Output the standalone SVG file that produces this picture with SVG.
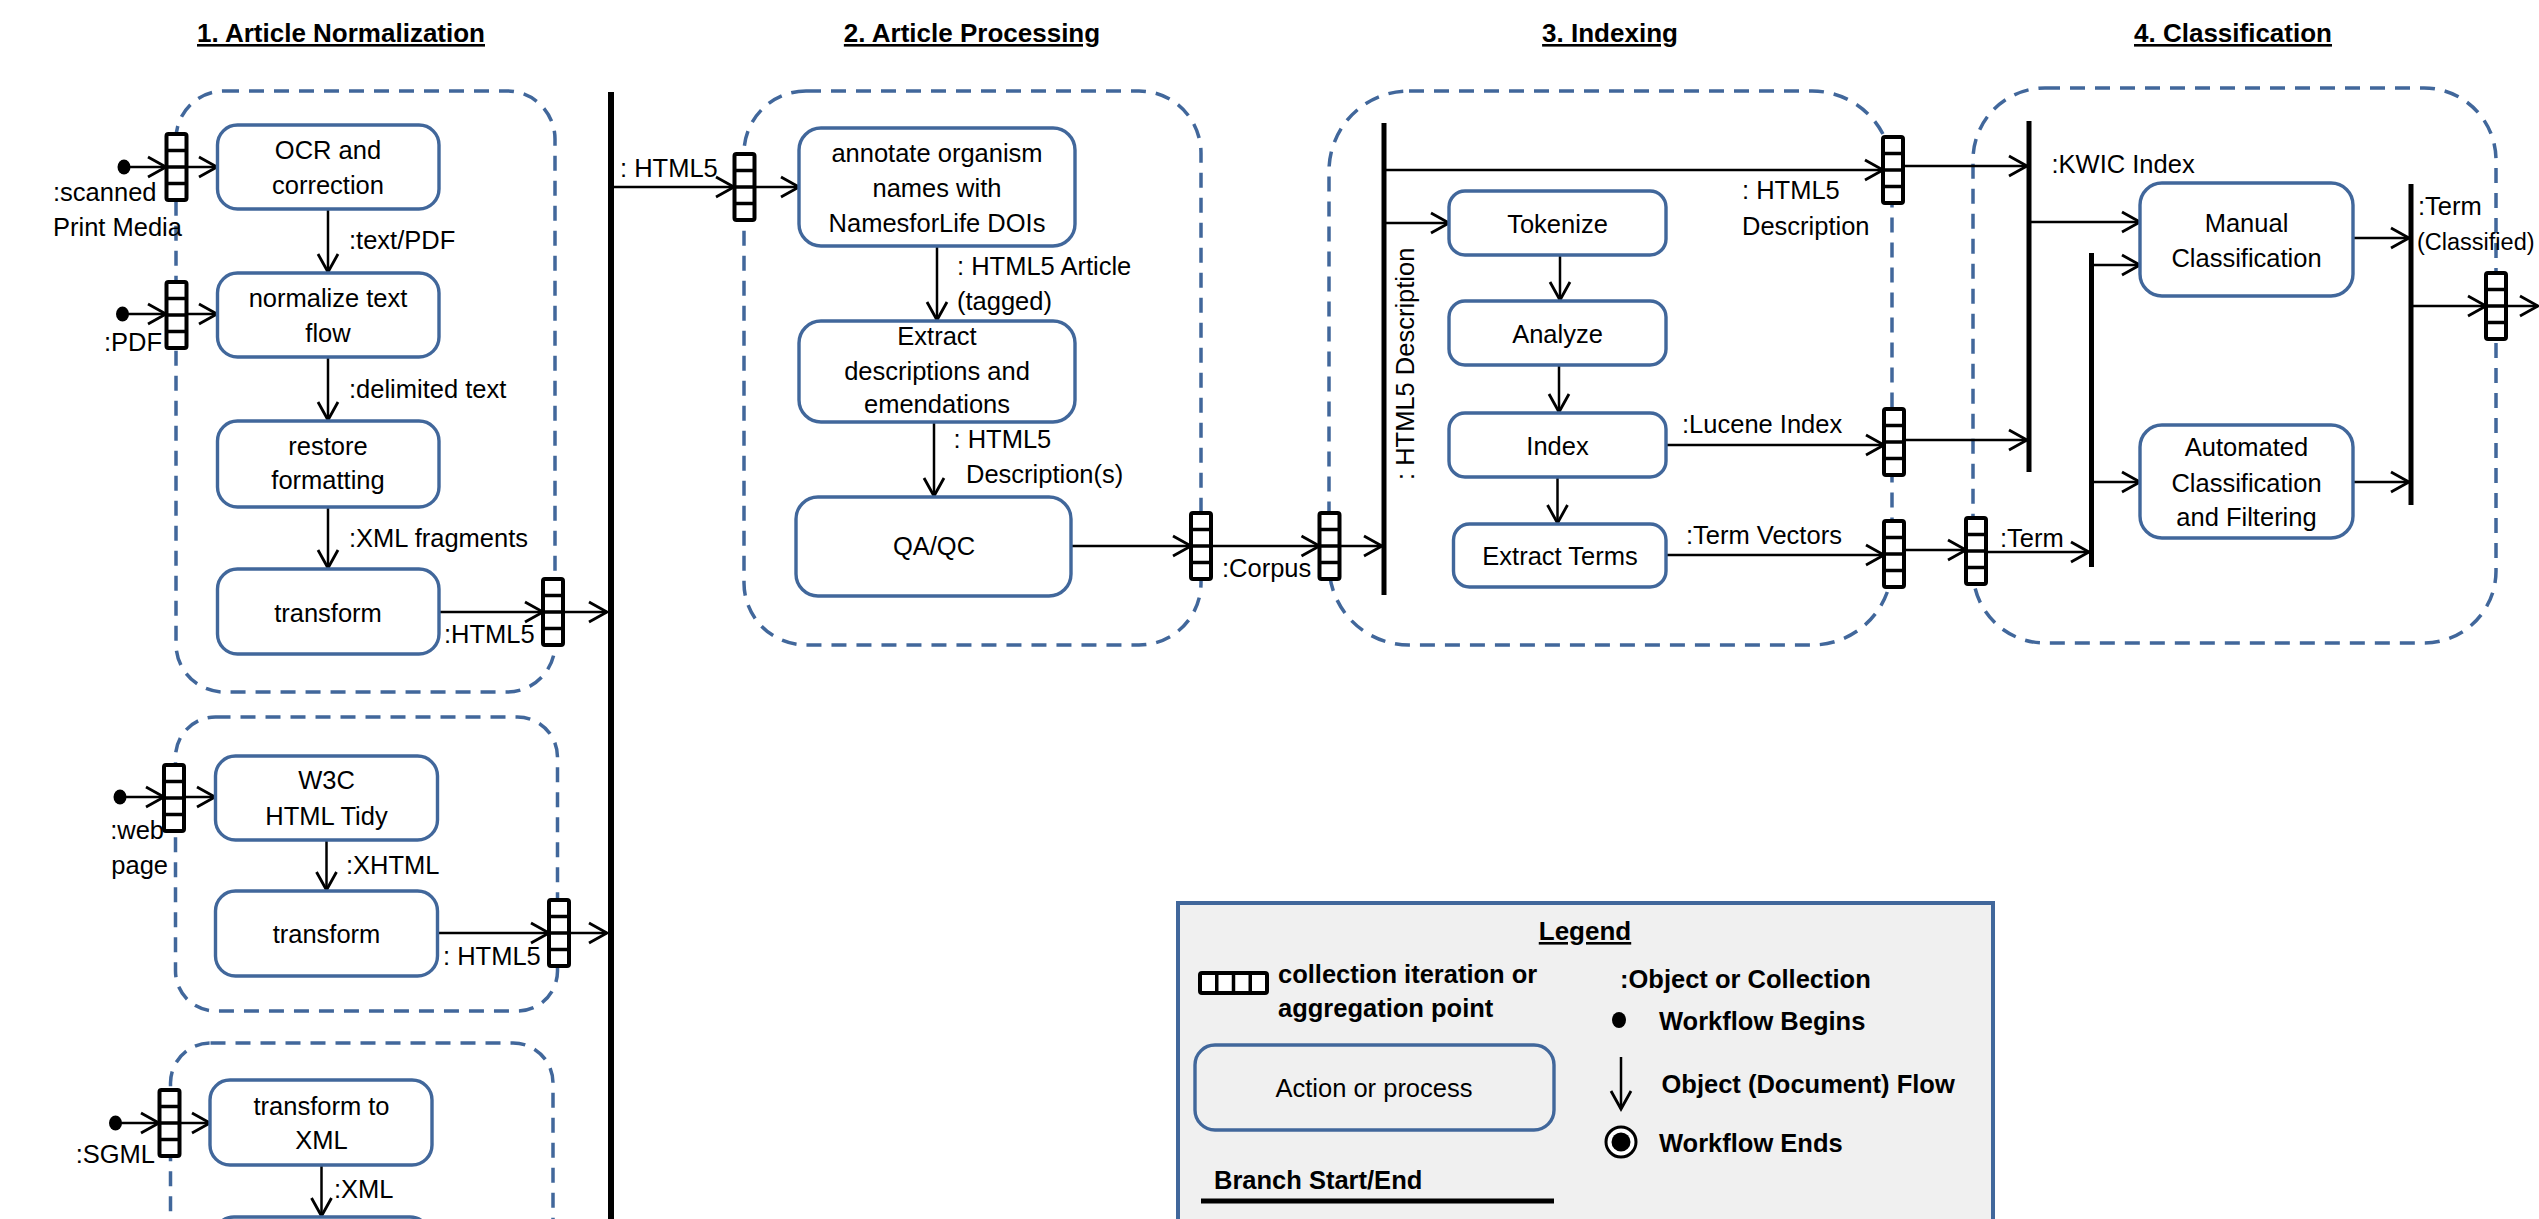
<svg xmlns="http://www.w3.org/2000/svg" xmlns:xlink="http://www.w3.org/1999/xlink" width="2539" height="1219" viewBox="0 0 2539 1219">
<style>
text{font-family:"Liberation Sans",Arial,sans-serif;font-size:25.5px;fill:#000}
.c{text-anchor:middle}
.e{text-anchor:end}
.b{font-weight:bold}
.h{font-weight:bold;font-size:26px;text-decoration:underline}
.box{fill:#fff;stroke:#41679b;stroke-width:3.4}
.grp{fill:none;stroke:#41679b;stroke-width:3.5;stroke-dasharray:15 10}
.f{fill:none;stroke:#000;stroke-width:2.5;marker-end:url(#ah)}
.bar{stroke:#000;stroke-width:6}
</style>
<defs>
<marker id="ah" markerUnits="userSpaceOnUse" viewBox="-22 -13 24 26" refX="0" refY="0" markerWidth="24" markerHeight="26" orient="auto" overflow="visible">
<path d="M-18,-10 L0,0 L-18,10" fill="none" stroke="#000" stroke-width="2.8"/>
</marker>
<g id="pin">
<rect x="0" y="0" width="20" height="66" rx="2" fill="#fff" stroke="#000" stroke-width="4"/>
<path d="M0 16.5H20M0 33H20M0 49.5H20" stroke="#000" stroke-width="3.5"/>
</g>
</defs>
<rect width="2539" height="1219" fill="#fff"/>

<g id="titles">
<text class="h c" x="341" y="42">1. Article Normalization</text>
<text class="h c" x="972" y="42">2. Article Processing</text>
<text class="h c" x="1610" y="42">3. Indexing</text>
<text class="h c" x="2233" y="42">4. Classification</text>
</g>

<g id="partitions">
<rect id="grp-ocr" class="grp" x="176" y="91" width="379" height="601" rx="48"/>
<rect id="grp-web" class="grp" x="175.5" y="717" width="382" height="294" rx="40"/>
<rect id="grp-sgml" class="grp" x="170.5" y="1043" width="382.5" height="260" rx="40"/>
<rect id="grp-processing" class="grp" x="744" y="91" width="457" height="554" rx="62"/>
<rect id="grp-indexing" class="grp" x="1329" y="91" width="563" height="554" rx="80"/>
<rect id="grp-classification" class="grp" x="1973" y="88" width="523" height="555" rx="72"/>
</g>

<g id="bars">
<line class="bar" x1="611" y1="92" x2="611" y2="1225"/>
<line class="bar" x1="1384" y1="123" x2="1384" y2="595" style="stroke-width:5"/>
<line class="bar" x1="2029" y1="121" x2="2029" y2="472" style="stroke-width:5"/>
<line class="bar" x1="2091.5" y1="253" x2="2091.5" y2="567" style="stroke-width:5"/>
<line class="bar" x1="2411" y1="184" x2="2411" y2="505" style="stroke-width:5"/>
</g>

<g id="connectors">
<line class="f" x1="124" y1="167" x2="166" y2="167"/>
<line class="f" x1="187" y1="167" x2="217" y2="167"/>
<line class="f" x1="328" y1="209" x2="328" y2="272"/>
<line class="f" x1="122" y1="314" x2="166" y2="314"/>
<line class="f" x1="187" y1="314" x2="217" y2="314"/>
<line class="f" x1="328" y1="357" x2="328" y2="420"/>
<line class="f" x1="328" y1="507" x2="328" y2="568"/>
<line class="f" x1="439" y1="612" x2="543" y2="612"/>
<line class="f" x1="563" y1="612" x2="607" y2="612"/>
<line class="f" x1="120" y1="797" x2="164" y2="797"/>
<line class="f" x1="184.5" y1="797" x2="215" y2="797"/>
<line class="f" x1="326.5" y1="840" x2="326.5" y2="890"/>
<line class="f" x1="437.5" y1="933" x2="549" y2="933"/>
<line class="f" x1="569" y1="933" x2="607" y2="933"/>
<line class="f" x1="115.5" y1="1123" x2="159" y2="1123"/>
<line class="f" x1="179.5" y1="1123" x2="210" y2="1123"/>
<line class="f" x1="321.5" y1="1165" x2="321.5" y2="1216"/>
<line class="f" x1="613" y1="187" x2="734" y2="187"/>
<line class="f" x1="755" y1="187" x2="799" y2="187"/>
<line class="f" x1="937" y1="246" x2="937" y2="320"/>
<line class="f" x1="934" y1="422" x2="934" y2="496"/>
<line class="f" x1="1071" y1="546" x2="1191" y2="546"/>
<line class="f" x1="1211" y1="546" x2="1319.5" y2="546"/>
<line class="f" x1="1339" y1="546" x2="1382" y2="546"/>
<line class="f" x1="1386" y1="170" x2="1883" y2="170"/>
<line class="f" x1="1902" y1="166" x2="2027" y2="166"/>
<line class="f" x1="1386" y1="223" x2="1449" y2="223"/>
<line class="f" x1="1560" y1="255" x2="1560" y2="300"/>
<line class="f" x1="1559" y1="365" x2="1559" y2="412"/>
<line class="f" x1="1666" y1="445" x2="1884" y2="445"/>
<line class="f" x1="1904.5" y1="440" x2="2027" y2="440"/>
<line class="f" x1="1557.5" y1="477" x2="1557.5" y2="523"/>
<line class="f" x1="1666" y1="555" x2="1884" y2="555"/>
<line class="f" x1="1904.5" y1="550" x2="1966" y2="550"/>
<line class="f" x1="1986" y1="552" x2="2089" y2="552"/>
<line class="f" x1="2031" y1="222" x2="2140" y2="222"/>
<line class="f" x1="2093" y1="265" x2="2140" y2="265"/>
<line class="f" x1="2093" y1="482" x2="2140" y2="482"/>
<line class="f" x1="2353" y1="238" x2="2409" y2="238"/>
<line class="f" x1="2353" y1="482" x2="2409" y2="482"/>
<line class="f" x1="2413" y1="306" x2="2486" y2="306"/>
<line class="f" x1="2506" y1="306" x2="2538" y2="306"/>
</g>

<g id="starts">
<ellipse cx="124" cy="167" rx="6.5" ry="7.5"/>
<ellipse cx="122.5" cy="314" rx="6.5" ry="7.5"/>
<ellipse cx="120" cy="797" rx="6.5" ry="7.5"/>
<ellipse cx="115.5" cy="1123" rx="6.5" ry="7.5"/>
</g>

<g id="pins">
<use href="#pin" x="166.5" y="134"/>
<use href="#pin" x="166.5" y="282"/>
<use href="#pin" x="543" y="579"/>
<use href="#pin" x="164" y="765"/>
<use href="#pin" x="549" y="900"/>
<use href="#pin" x="159.5" y="1090"/>
<use href="#pin" x="734.5" y="154"/>
<use href="#pin" x="1191" y="513"/>
<use href="#pin" x="1319.5" y="513"/>
<use href="#pin" x="1883" y="137"/>
<use href="#pin" x="1884" y="409"/>
<use href="#pin" x="1884" y="521"/>
<use href="#pin" x="1966" y="518"/>
<use href="#pin" x="2486" y="273"/>
</g>

<g id="n-ocr"><rect class="box" x="217.5" y="125" width="221.5" height="84" rx="20"/>
<text class="c" x="328" y="159">OCR and</text><text class="c" x="328" y="194">correction</text></g>
<g id="n-normalize"><rect class="box" x="217.5" y="273" width="221.5" height="84" rx="20"/>
<text class="c" x="328" y="307">normalize text</text><text class="c" x="328" y="342">flow</text></g>
<g id="n-restore"><rect class="box" x="217.5" y="421" width="221.5" height="86" rx="20"/>
<text class="c" x="328" y="455">restore</text><text class="c" x="328" y="489">formatting</text></g>
<g id="n-transform1"><rect class="box" x="217.5" y="569" width="221.5" height="85" rx="20"/>
<text class="c" x="328" y="622">transform</text></g>
<g id="n-tidy"><rect class="box" x="215.5" y="756" width="222" height="84" rx="20"/>
<text class="c" x="326.5" y="789">W3C</text><text class="c" x="326.5" y="825">HTML Tidy</text></g>
<g id="n-transform2"><rect class="box" x="215.5" y="891" width="222" height="85" rx="20"/>
<text class="c" x="326.5" y="943">transform</text></g>
<g id="n-toxml"><rect class="box" x="210" y="1080" width="222" height="85" rx="20"/>
<text class="c" x="321.5" y="1115">transform to</text><text class="c" x="321.5" y="1149">XML</text></g>
<g id="n-next"><rect class="box" x="214" y="1217" width="216" height="85" rx="20"/></g>

<g id="n-annotate"><rect class="box" x="799" y="128" width="276" height="118" rx="22"/>
<text class="c" x="937" y="162">annotate organism</text><text class="c" x="937" y="197">names with</text><text class="c" x="937" y="232">NamesforLife DOIs</text></g>
<g id="n-extract"><rect class="box" x="799" y="321" width="276" height="101" rx="22"/>
<text class="c" x="937" y="345">Extract</text><text class="c" x="937" y="380">descriptions and</text><text class="c" x="937" y="413">emendations</text></g>
<g id="n-qaqc"><rect class="box" x="796" y="497" width="275" height="99" rx="22"/>
<text class="c" x="934" y="555">QA/QC</text></g>

<g id="n-tokenize"><rect class="box" x="1449" y="191" width="217" height="64" rx="16"/>
<text class="c" x="1557.5" y="233">Tokenize</text></g>
<g id="n-analyze"><rect class="box" x="1449" y="301" width="217" height="64" rx="16"/>
<text class="c" x="1557.5" y="343">Analyze</text></g>
<g id="n-index"><rect class="box" x="1449" y="413" width="217" height="64" rx="16"/>
<text class="c" x="1557.5" y="455">Index</text></g>
<g id="n-terms"><rect class="box" x="1453.5" y="524" width="212.5" height="63" rx="16"/>
<text class="c" x="1560" y="565">Extract Terms</text></g>

<g id="n-manual"><rect class="box" x="2140" y="183" width="213" height="113" rx="22"/>
<text class="c" x="2246.5" y="232">Manual</text><text class="c" x="2246.5" y="267">Classification</text></g>
<g id="n-auto"><rect class="box" x="2140" y="425" width="213" height="113" rx="22"/>
<text class="c" x="2246.5" y="456">Automated</text><text class="c" x="2246.5" y="492">Classification</text><text class="c" x="2246.5" y="526">and Filtering</text></g>

<g id="labels">
<text x="53" y="201">:scanned</text>
<text x="53" y="236">Print Media</text>
<text class="e" x="162" y="351">:PDF</text>
<text x="349" y="249">:text/PDF</text>
<text x="349" y="398">:delimited text</text>
<text x="349" y="547">:XML fragments</text>
<text x="444" y="643">:HTML5</text>
<text class="e" x="164" y="839">:web</text>
<text class="e" x="168" y="874">page</text>
<text x="346" y="874">:XHTML</text>
<text x="443" y="965">: HTML5</text>
<text class="e" x="155" y="1163">:SGML</text>
<text x="334" y="1198">:XML</text>
<text x="620" y="177">: HTML5</text>
<text x="957" y="275">: HTML5 Article</text>
<text x="957" y="310">(tagged)</text>
<text x="953.5" y="448">: HTML5</text>
<text x="966" y="483">Description(s)</text>
<text x="1222" y="577">:Corpus</text>
<text x="1742" y="199">: HTML5</text>
<text x="1742" y="235">Description</text>
<text transform="translate(1414,480) rotate(-90)" x="0" y="0">: HTML5 Description</text>
<text x="1682" y="433">:Lucene Index</text>
<text x="1686" y="544">:Term Vectors</text>
<text x="2051.5" y="173">:KWIC Index</text>
<text x="2418" y="215">:Term</text>
<text x="2417" y="250" style="font-size:23.5px">(Classified)</text>
<text x="2000" y="547">:Term</text>
</g>

<g id="legend">
<rect x="1178" y="903" width="815" height="330" fill="#f0f0f0" stroke="#41679b" stroke-width="4"/>
<text class="h c" x="1585" y="940">Legend</text>
<rect x="1200" y="973" width="67" height="20" rx="2" fill="#fff" stroke="#000" stroke-width="4"/>
<path d="M1216.75 973V993M1233.5 973V993M1250.25 973V993" stroke="#000" stroke-width="3.5"/>
<text class="b" x="1278" y="983">collection iteration or</text>
<text class="b" x="1278" y="1017">aggregation point</text>
<rect x="1195" y="1045" width="359" height="85" rx="20" fill="none" stroke="#41679b" stroke-width="3.4"/>
<text class="c" x="1374" y="1097">Action or process</text>
<text class="b" x="1214" y="1189">Branch Start/End</text>
<line x1="1201" y1="1201" x2="1554" y2="1201" stroke="#000" stroke-width="5"/>
<text class="b" x="1620" y="988">:Object or Collection</text>
<ellipse cx="1619" cy="1020" rx="7" ry="8"/>
<text class="b" x="1659" y="1030">Workflow Begins</text>
<line class="f" x1="1621" y1="1057" x2="1621" y2="1109"/>
<text class="b" x="1661.5" y="1093">Object (Document) Flow</text>
<circle cx="1621" cy="1142" r="15" fill="#fff" stroke="#000" stroke-width="3"/>
<circle cx="1621" cy="1142" r="9.5" fill="#000"/>
<text class="b" x="1659" y="1152">Workflow Ends</text>
</g>
</svg>
